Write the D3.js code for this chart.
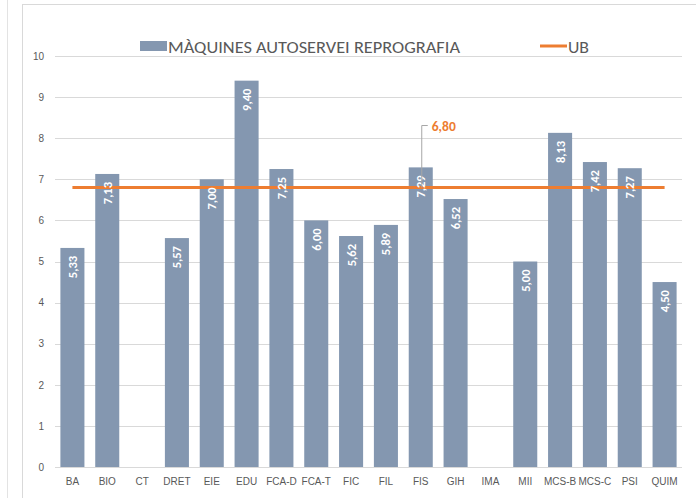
<!DOCTYPE html>
<html>
<head>
<meta charset="utf-8">
<script src="https://cdn.jsdelivr.net/npm/d3@7"></script>
<style>
  html, body { margin: 0; padding: 0; background: #fff; }
  svg { display: block; font-family: Calibri, Carlito, "Liberation Sans", "Open Sans", sans-serif; }
</style>
</head>
<body>
<svg id="chart" width="696" height="498"></svg>
<script>
// Centres / facultats
const categories = ["BA", "BIO", "CT", "DRET", "EIE", "EDU", "FCA-D", "FCA-T", "FIC", "FIL",
  "FIS", "GIH", "IMA", "MII", "MCS-B", "MCS-C", "PSI", "QUIM"];
// Valoració de les màquines d'autoservei de reprografia (null = sense dades)
const values = [5.33, 7.13, null, 5.57, 7.00, 9.40, 7.25, 6.00, 5.62, 5.89,
  7.29, 6.52, null, 5.00, 8.13, 7.42, 7.27, 4.50];
// Mitjana de la UB
const ubValue = 6.80;
const yTicks = [0, 1, 2, 3, 4, 5, 6, 7, 8, 9, 10];
const seriesNames = ["MÀQUINES AUTOSERVEI REPROGRAFIA", "UB"];

const barColor = "#8497B0";
const lineColor = "#ED7D31";
const gridColor = "#D9D9D9";
const textColor = "#595959";

const svg = d3.select("#chart");
const fmt = v => v.toFixed(2).replace(".", ",");

// Outer frames
svg.append("line").attr("x1", 7.5).attr("x2", 7.5).attr("y1", 0).attr("y2", 498)
  .attr("stroke", "#E3E3E3").attr("stroke-width", 1);
svg.append("rect").attr("x", 22.5).attr("y", 4.5).attr("width", 700).attr("height", 520)
  .attr("fill", "none").attr("stroke", "#D9D9D9").attr("stroke-width", 1);

const x = d3.scaleBand().domain(categories).range([55, 682]).paddingInner(0.31).paddingOuter(0.155);
const y = d3.scaleLinear().domain([0, 10]).range([467, 56]);

// Gridlines
svg.append("g").selectAll("line").data(yTicks).join("line")
  .attr("x1", 55).attr("x2", 682)
  .attr("y1", d => Math.round(y(d)) + 0.5).attr("y2", d => Math.round(y(d)) + 0.5)
  .attr("stroke", gridColor).attr("stroke-width", 1);

// Y axis labels
const yAxis = d3.axisLeft(y).tickValues(yTicks).tickSize(0).tickPadding(0);
const yg = svg.append("g").attr("transform", "translate(44,0)").call(yAxis);
yg.select(".domain").remove();
yg.selectAll("text").attr("fill", textColor).style("font-size", "10px");

// X axis labels
const xAxis = d3.axisBottom(x).tickSize(0).tickPadding(11);
const xg = svg.append("g").attr("transform", "translate(0,467)").call(xAxis);
xg.select(".domain").remove();
xg.selectAll("text").attr("fill", textColor).style("font-size", "10px");

// Bars
const data = categories.map((c, i) => ({ c, v: values[i] })).filter(d => d.v != null);
svg.append("g").selectAll("rect").data(data).join("rect")
  .attr("x", d => x(d.c)).attr("width", x.bandwidth())
  .attr("y", d => y(d.v)).attr("height", d => y(0) - y(d.v))
  .attr("fill", barColor);

// UB average line
const lineX1 = x(categories[0]) + x.bandwidth() / 2;
const lineX2 = x(categories[categories.length - 1]) + x.bandwidth() / 2;
svg.append("line").attr("x1", lineX1).attr("x2", lineX2)
  .attr("y1", y(ubValue)).attr("y2", y(ubValue))
  .attr("stroke", lineColor).attr("stroke-width", 3);

// Value labels inside bars
svg.append("g").selectAll("text").data(data).join("text")
  .attr("transform", d => `translate(${x(d.c) + x.bandwidth() / 2 + 4.5},${y(d.v) + 8}) rotate(-90)`)
  .attr("text-anchor", "end")
  .attr("fill", "#fff").style("font-size", "12.5px").style("font-weight", "bold")
  .text(d => fmt(d.v));

// UB callout with leader line
const calloutX = x("FIS") + x.bandwidth() / 2 + 1;
svg.append("path")
  .attr("d", `M${calloutX},${y(ubValue)} L${calloutX},${y(ubValue) - 62} L${calloutX + 6},${y(ubValue) - 62}`)
  .attr("fill", "none").attr("stroke", "#A6A6A6").attr("stroke-width", 1);
svg.append("text").attr("x", calloutX + 10).attr("y", y(ubValue) - 57)
  .attr("fill", lineColor).style("font-size", "13.5px").style("font-weight", "bold")
  .text(fmt(ubValue));

// Legend
const lg = svg.append("g");
lg.append("rect").attr("x", 140).attr("y", 41).attr("width", 27).attr("height", 10).attr("fill", barColor);
lg.append("text").attr("x", 168).attr("y", 53).attr("fill", textColor)
  .attr("textLength", 292).attr("lengthAdjust", "spacingAndGlyphs")
  .style("font-size", "16px").text(seriesNames[0]);
lg.append("line").attr("x1", 540).attr("x2", 567).attr("y1", 46).attr("y2", 46)
  .attr("stroke", lineColor).attr("stroke-width", 3);
lg.append("text").attr("x", 568).attr("y", 53).attr("fill", textColor)
  .attr("textLength", 21).attr("lengthAdjust", "spacingAndGlyphs")
  .style("font-size", "16px").text(seriesNames[1]);
</script>
</body>
</html>
